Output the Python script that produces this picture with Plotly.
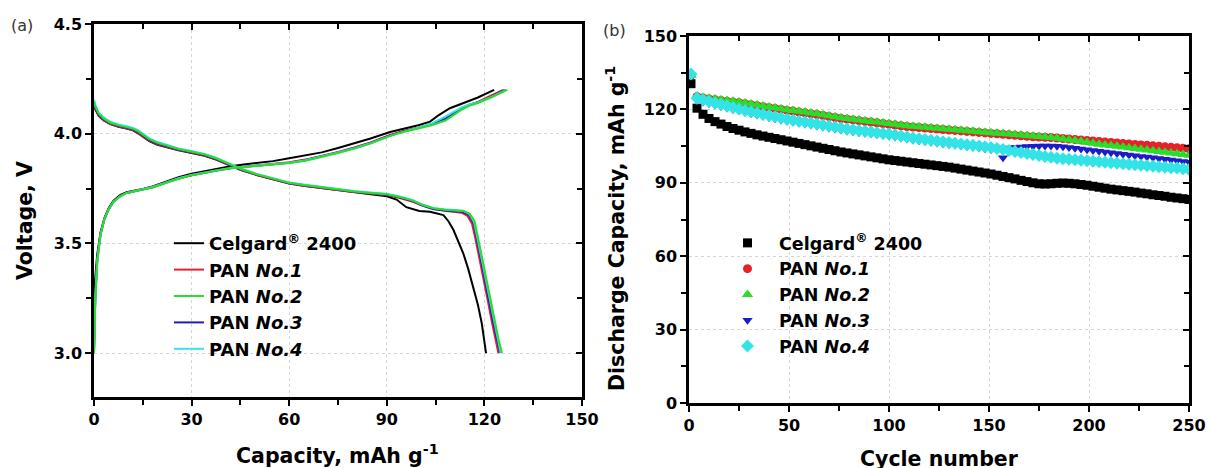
import plotly.graph_objects as go

# ---------------- Panel (a): charge / discharge curves ----------------
# Celgard 2400
k_cc = [0, 0.3, 1.0, 2.0, 3.2, 4.5, 6, 8, 10, 12.5, 15, 18, 22, 26, 30, 34, 38, 42, 46, 50,
        55, 60, 65, 70, 75, 80, 85, 91, 95, 100, 103.3, 106, 109.4, 113.5, 118, 123]
k_cv = [3.24, 3.33, 3.45, 3.55, 3.615, 3.66, 3.695, 3.72, 3.733, 3.74, 3.748, 3.76, 3.782, 3.802,
        3.818, 3.83, 3.842, 3.852, 3.86, 3.866, 3.875, 3.888, 3.9, 3.915, 3.935, 3.955, 3.978,
        4.008, 4.022, 4.04, 4.055, 4.085, 4.116, 4.14, 4.165, 4.2]
k_dc = [0, 0.5, 1.5, 3, 5, 7.5, 10, 12, 13.5, 15, 17, 19.5, 22.5, 26, 30, 34, 37.5, 41, 45, 50,
        55, 60, 65, 70, 75, 80, 85, 90, 93, 96, 100, 103.3, 107.4, 109, 110.5, 112, 113.5, 115,
        116.6, 118, 119.2, 120, 120.5]
k_dv = [4.135, 4.108, 4.08, 4.06, 4.044, 4.032, 4.024, 4.015, 4.002, 3.985, 3.966, 3.95, 3.938,
        3.924, 3.912, 3.899, 3.882, 3.86, 3.836, 3.812, 3.792, 3.773, 3.762, 3.752, 3.742, 3.734,
        3.725, 3.715, 3.7, 3.665, 3.648, 3.644, 3.629, 3.6, 3.561, 3.51, 3.455, 3.385, 3.302,
        3.22, 3.135, 3.06, 3.0]

# PAN No.1
r_cc = [0, 0.4, 1.0, 2.0, 3.2, 4.5, 6, 8, 10, 12.5, 15, 18, 22, 26, 30, 34, 38, 42, 46, 50,
        55, 60, 65, 70, 75, 80, 85, 91, 95, 100, 104, 108, 110.5, 113, 115.5, 118, 121.5, 125.8]
r_cv = [3.0, 3.26, 3.43, 3.545, 3.612, 3.656, 3.69, 3.716, 3.73, 3.738, 3.746, 3.757, 3.777,
        3.797, 3.812, 3.824, 3.834, 3.844, 3.85, 3.856, 3.863, 3.87, 3.882, 3.898, 3.917, 3.937,
        3.96, 3.994, 4.012, 4.03, 4.045, 4.068, 4.092, 4.115, 4.132, 4.145, 4.17, 4.2]
r_dc = [0, 0.5, 1.5, 3, 5, 7.5, 10, 12, 13.5, 15, 17, 19.5, 22.5, 26, 30, 34, 37.5, 41, 45, 50,
        55, 60, 65, 70, 75, 80, 85, 90, 94, 98, 101, 104.3, 108.4, 110.8, 113, 114.8, 116.2,
        117.4, 118.6, 119.8, 121.1, 122.4, 123.4, 124.3]
r_dv = [4.135, 4.11, 4.082, 4.062, 4.045, 4.033, 4.025, 4.016, 4.004, 3.987, 3.968, 3.952, 3.94,
        3.926, 3.914, 3.9, 3.883, 3.86, 3.836, 3.812, 3.792, 3.773, 3.762, 3.752, 3.742, 3.734,
        3.727, 3.72, 3.707, 3.69, 3.672, 3.657, 3.648, 3.645, 3.64, 3.625, 3.59, 3.51, 3.415,
        3.33, 3.235, 3.135, 3.06, 3.0]

# PAN No.2
g_cc = [0, 0.4, 1.0, 2.0, 3.2, 4.5, 6, 8, 10, 12.5, 15, 18, 22, 26, 30, 34, 38, 42, 46, 50,
        55, 60, 65, 70, 75, 80, 85, 91, 95, 100, 104, 108, 110.5, 113, 115.5, 118, 122, 127]
g_cv = [3.0, 3.25, 3.42, 3.54, 3.61, 3.655, 3.69, 3.715, 3.73, 3.738, 3.745, 3.755, 3.775, 3.795,
        3.81, 3.822, 3.832, 3.842, 3.848, 3.853, 3.86, 3.866, 3.877, 3.893, 3.912, 3.932, 3.955,
        3.99, 4.008, 4.025, 4.04, 4.06, 4.085, 4.11, 4.128, 4.14, 4.165, 4.2]
g_dc = [0, 0.5, 1.5, 3, 5, 7.5, 10, 12, 13.5, 15, 17, 19.5, 22.5, 26, 30, 34, 37.5, 41, 45, 50,
        55, 60, 65, 70, 75, 80, 85, 90, 94, 98, 101, 104.3, 108.4, 111, 113.5, 115.5, 117, 118.2,
        119.5, 120.7, 122, 123.3, 124.4, 125.4]
g_dv = [4.145, 4.12, 4.09, 4.068, 4.05, 4.038, 4.03, 4.022, 4.012, 3.995, 3.975, 3.958, 3.945,
        3.93, 3.918, 3.905, 3.888, 3.865, 3.84, 3.815, 3.795, 3.776, 3.765, 3.755, 3.745, 3.737,
        3.73, 3.724, 3.712, 3.695, 3.675, 3.66, 3.652, 3.65, 3.648, 3.635, 3.6, 3.515, 3.42,
        3.333, 3.235, 3.135, 3.06, 3.0]

# PAN No.3
b_cc = [0, 0.4, 1.0, 2.0, 3.2, 4.5, 6, 8, 10, 12.5, 15, 18, 22, 26, 30, 34, 38, 42, 46, 50,
        55, 60, 65, 70, 75, 80, 85, 91, 95, 100, 104, 108, 110.5, 113, 115.5, 118, 122, 126.3]
b_cv = [3.0, 3.25, 3.42, 3.54, 3.61, 3.655, 3.69, 3.715, 3.73, 3.738, 3.745, 3.756, 3.776, 3.796,
        3.811, 3.823, 3.833, 3.843, 3.849, 3.855, 3.862, 3.868, 3.88, 3.896, 3.915, 3.935, 3.958,
        3.992, 4.01, 4.028, 4.044, 4.068, 4.095, 4.118, 4.132, 4.143, 4.168, 4.2]
b_dc = [0, 0.5, 1.5, 3, 5, 7.5, 10, 12, 13.5, 15, 17, 19.5, 22.5, 26, 30, 34, 37.5, 41, 45, 50,
        55, 60, 65, 70, 75, 80, 85, 90, 94, 98, 101, 104.3, 108.4, 111, 113.3, 115.2, 116.6,
        117.8, 119.0, 120.2, 121.5, 122.8, 123.9, 124.8]
b_dv = [4.14, 4.115, 4.086, 4.065, 4.048, 4.036, 4.028, 4.019, 4.008, 3.991, 3.972, 3.955, 3.943,
        3.928, 3.916, 3.903, 3.886, 3.863, 3.838, 3.814, 3.794, 3.775, 3.764, 3.754, 3.744, 3.736,
        3.729, 3.722, 3.71, 3.693, 3.673, 3.657, 3.649, 3.647, 3.644, 3.63, 3.595, 3.512, 3.418,
        3.332, 3.235, 3.135, 3.06, 3.0]

# PAN No.4
c_cc = [0, 0.4, 1.0, 2.0, 3.2, 4.5, 6, 8, 10, 12.5, 15, 18, 22, 26, 30, 34, 38, 42, 46, 50,
        55, 60, 65, 70, 75, 80, 85, 91, 95, 100, 104, 108, 110.5, 113, 115.5, 118, 122, 126.8]
c_cv = [3.0, 3.25, 3.42, 3.54, 3.61, 3.655, 3.69, 3.715, 3.73, 3.738, 3.746, 3.757, 3.777, 3.797,
        3.812, 3.824, 3.834, 3.844, 3.85, 3.855, 3.862, 3.868, 3.879, 3.895, 3.914, 3.934, 3.957,
        3.99, 4.008, 4.027, 4.048, 4.078, 4.1, 4.12, 4.133, 4.143, 4.167, 4.2]
c_dc = [0, 0.5, 1.5, 3, 5, 7.5, 10, 12, 13.5, 15, 17, 19.5, 22.5, 26, 30, 34, 37.5, 41, 45, 50,
        55, 60, 65, 70, 75, 80, 85, 90, 94, 98, 101, 104.3, 108.4, 111, 113.5, 115.4, 116.8,
        118.0, 119.3, 120.5, 121.8, 123.1, 124.1, 125.0]
c_dv = [4.155, 4.128, 4.096, 4.073, 4.055, 4.042, 4.034, 4.026, 4.016, 3.999, 3.979, 3.962, 3.948,
        3.933, 3.921, 3.908, 3.891, 3.868, 3.842, 3.817, 3.797, 3.778, 3.767, 3.757, 3.747, 3.739,
        3.732, 3.726, 3.714, 3.697, 3.677, 3.662, 3.654, 3.652, 3.649, 3.634, 3.598, 3.514, 3.42,
        3.333, 3.235, 3.135, 3.06, 3.0]

# ---------------- Panel (b): cycling performance ----------------
cycles = list(range(1, 251, 3))

cap_celgard = [130.5, 120.5, 118.0, 116.3, 115.0, 114.0, 113.0, 112.2, 111.5, 110.8,
               110.2, 109.6, 109.1, 108.6, 108.1, 107.6, 107.1, 106.6, 106.1, 105.6,
               105.1, 104.6, 104.1, 103.6, 103.1, 102.6, 102.2, 101.8, 101.4, 101.0,
               100.6, 100.2, 99.8, 99.4, 99.1, 98.8, 98.5, 98.2, 97.9, 97.6,
               97.3, 97.0, 96.7, 96.4, 96.0, 95.6, 95.2, 94.8, 94.4, 94.0,
               93.6, 93.1, 92.6, 92.1, 91.6, 91.0, 90.5, 90.0, 89.6, 89.5,
               89.6, 89.8, 89.9, 89.8, 89.6, 89.3, 89.0, 88.6, 88.2, 87.8,
               87.4, 87.1, 86.8, 86.5, 86.2, 85.8, 85.5, 85.1, 84.8, 84.5,
               84.1, 83.8, 83.5, 83.2]
cap_pan1 = [134.0, 125.2, 124.7, 124.3, 123.9, 123.6, 123.3, 123.0, 122.7, 122.3,
            121.9, 121.5, 121.1, 120.7, 120.4, 120.0, 119.6, 119.3, 118.9, 118.6,
            118.2, 117.9, 117.5, 117.1, 116.7, 116.3, 116.0, 115.7, 115.4, 115.1,
            114.8, 114.5, 114.2, 113.9, 113.6, 113.3, 113.0, 112.8, 112.6, 112.4,
            112.2, 112.0, 111.8, 111.6, 111.4, 111.2, 111.0, 110.8, 110.6, 110.4,
            110.2, 110.0, 109.8, 109.6, 109.4, 109.2, 109.0, 108.8, 108.7, 108.6,
            108.5, 108.3, 108.1, 107.9, 107.7, 107.5, 107.3, 107.1, 106.9, 106.7,
            106.5, 106.3, 106.1, 105.9, 105.7, 105.5, 105.3, 105.1, 104.9, 104.7,
            104.5, 104.3, 104.1, 103.9]
cap_pan2 = [134.0, 125.5, 125.0, 124.6, 124.2, 123.9, 123.6, 123.3, 123.0, 122.6,
            122.2, 121.8, 121.4, 121.0, 120.7, 120.3, 119.9, 119.6, 119.2, 118.9,
            118.5, 118.2, 117.8, 117.4, 117.0, 116.6, 116.3, 116.0, 115.7, 115.4,
            115.1, 114.8, 114.5, 114.2, 113.9, 113.6, 113.3, 113.1, 112.9, 112.7,
            112.5, 112.3, 112.1, 111.9, 111.7, 111.5, 111.3, 111.1, 110.9, 110.7,
            110.5, 110.3, 110.1, 109.9, 109.7, 109.5, 109.3, 109.1, 108.9, 108.7,
            108.5, 108.2, 107.9, 107.6, 107.3, 107.0, 106.6, 106.2, 105.8, 105.5,
            105.2, 104.9, 104.6, 104.3, 104.0, 103.7, 103.4, 103.1, 102.8, 102.5,
            102.2, 101.9, 101.6, 101.3]
cap_pan3 = [134.0, 123.6, 123.0, 122.4, 121.8, 121.2, 120.6, 120.0, 119.4, 118.8,
            118.2, 117.7, 117.2, 116.7, 116.2, 115.7, 115.2, 114.8, 114.4, 114.0,
            113.6, 113.2, 112.8, 112.4, 112.0, 111.6, 111.2, 110.9, 110.6, 110.3,
            110.0, 109.7, 109.4, 109.1, 108.7, 108.3, 107.9, 107.5, 107.2, 106.9,
            106.6, 106.3, 106.0, 105.7, 105.4, 105.1, 104.8, 104.5, 104.2, 103.9,
            103.6, 103.4, 100.2, 104.2, 104.4, 104.6, 104.8, 104.9, 105.0, 105.0,
            105.0, 104.9, 104.7, 104.4, 104.1, 103.8, 103.5, 103.2, 102.9, 102.6,
            102.3, 102.0, 101.7, 101.4, 101.1, 100.8, 100.5, 100.2, 99.9, 99.6,
            99.3, 99.0, 98.7, 98.4]
cap_pan4 = [134.5, 124.6, 123.9, 123.2, 122.6, 122.0, 121.4, 120.8, 120.2, 119.6,
            119.0, 118.5, 118.0, 117.5, 117.0, 116.5, 116.0, 115.6, 115.2, 114.8,
            114.4, 114.0, 113.6, 113.2, 112.8, 112.4, 112.0, 111.7, 111.4, 111.1,
            110.8, 110.5, 110.2, 109.9, 109.5, 109.1, 108.7, 108.3, 108.0, 107.7,
            107.4, 107.1, 106.8, 106.5, 106.2, 105.9, 105.6, 105.3, 105.0, 104.7,
            104.4, 104.0, 103.6, 103.2, 102.8, 102.4, 102.0, 101.6, 101.2, 100.8,
            100.4, 100.0, 99.8, 99.6, 99.4, 99.2, 99.0, 98.8, 98.6, 98.4,
            98.2, 98.0, 97.8, 97.6, 97.4, 97.2, 97.0, 96.8, 96.6, 96.4,
            96.2, 96.0, 95.7, 95.4]

names = ["Celgard<sup>®</sup> 2400", "PAN <i>No.1</i>", "PAN <i>No.2</i>",
         "PAN <i>No.3</i>", "PAN <i>No.4</i>"]
colors = ["#000000", "#e8202a", "#2add2a", "#1c1cc8", "#33e3e6"]
symbols = ["square", "circle", "triangle-up", "triangle-down", "diamond"]

W, H = 1207, 468
FONT = "DejaVu Sans"

fig = go.Figure()

curves = [(0, k_cc, k_cv, k_dc, k_dv), (1, r_cc, r_cv, r_dc, r_dv),
          (3, b_cc, b_cv, b_dc, b_dv), (4, c_cc, c_cv, c_dc, c_dv),
          (2, g_cc, g_cv, g_dc, g_dv)]
for i, cc, cv, dc, dv in curves:
    fig.add_trace(go.Scatter(
        x=cc + [None] + dc, y=cv + [None] + dv, mode="lines",
        line=dict(color=colors[i], width=2), name=names[i],
        legend="legend", legendrank=i + 1, xaxis="x", yaxis="y",
        connectgaps=False))

caps = [cap_celgard, cap_pan1, cap_pan2, cap_pan3, cap_pan4]
msizes = [9, 9, 10, 9, 10]
for i in range(5):
    fig.add_trace(go.Scatter(
        x=cycles, y=caps[i], mode="markers",
        marker=dict(symbol=symbols[i], size=msizes[i], color=colors[i], line=dict(width=0)),
        name=names[i], legend="legend2", legendrank=i + 1,
        xaxis="x2", yaxis="y2"))

# invisible traces to activate mirrored (inward-tick) axes
fig.add_trace(go.Scatter(x=[None], y=[None], xaxis="x3", yaxis="y3",
                         showlegend=False, hoverinfo="skip"))
fig.add_trace(go.Scatter(x=[None], y=[None], xaxis="x4", yaxis="y4",
                         showlegend=False, hoverinfo="skip"))

tickfont = dict(family=FONT, size=16, color="black", weight="bold")
grid = dict(showgrid=True, gridcolor="#d6d6d6", griddash="dot", gridwidth=1)


def main_axis(rng, dtick, mdtick, domain, anchor, fmt=None):
    d = dict(domain=domain, range=rng, anchor=anchor, tickmode="linear", tick0=0,
             dtick=dtick, ticks="outside", ticklen=6, tickwidth=2, tickcolor="black",
             showline=True, linewidth=2.5, linecolor="black", mirror=True,
             zeroline=False, tickfont=tickfont, automargin=False,
             minor=dict(dtick=mdtick, ticks="outside", ticklen=5, tickwidth=2,
                        tickcolor="black", showgrid=False), **grid)
    if fmt:
        d["tickformat"] = fmt
    return d


def mirror_axis(rng, dtick, mdtick, over, side, anchor):
    return dict(range=rng, overlaying=over, side=side, anchor=anchor,
                tickmode="linear", tick0=0, dtick=dtick, ticks="inside",
                ticklen=6, tickwidth=2, tickcolor="black", showticklabels=False,
                showline=False, showgrid=False, zeroline=False,
                minor=dict(dtick=mdtick, ticks="inside", ticklen=5, tickwidth=2,
                           tickcolor="black", showgrid=False))


xa_dom = [94 / W, 582 / W]
ya_dom = [1 - 397 / H, 1 - 24 / H]
xb_dom = [689 / W, 1189 / W]
yb_dom = [1 - 403 / H, 1 - 36 / H]

fig.update_layout(
    width=W, height=H, margin=dict(l=0, r=0, t=0, b=0),
    paper_bgcolor="white", plot_bgcolor="white",
    font=dict(family=FONT, color="black"),
    xaxis=main_axis([0, 150], 30, 15, xa_dom, "y"),
    yaxis=main_axis([2.8, 4.5], 0.5, 0.25, ya_dom, "x", ".1f"),
    xaxis2=main_axis([0, 250], 50, 25, xb_dom, "y2"),
    yaxis2=main_axis([0, 150], 30, 15, yb_dom, "x2"),
    xaxis3=mirror_axis([0, 150], 30, 15, "x", "top", "y"),
    yaxis3=mirror_axis([2.8, 4.5], 0.5, 0.25, "y", "right", "x"),
    xaxis4=mirror_axis([0, 250], 50, 25, "x2", "top", "y2"),
    yaxis4=mirror_axis([0, 150], 30, 15, "y2", "right", "x2"),
    legend=dict(x=169 / W, y=1 - 225 / H, xanchor="left", yanchor="top",
                bgcolor="rgba(0,0,0,0)", borderwidth=0,
                font=dict(family=FONT, size=18, color="black", weight="bold")),
    legend2=dict(x=716 / W, y=1 - 225 / H, xanchor="left", yanchor="top",
                 bgcolor="rgba(0,0,0,0)", borderwidth=0, itemwidth=53,
                 font=dict(family=FONT, size=17.5, color="black", weight="bold")),
    showlegend=True,
)

title_font = dict(family=FONT, size=20.5, color="black", weight="bold")
ann = [
    dict(text="(a)", x=22 / W, y=1 - 25 / H, font=dict(family=FONT, size=16, color="#333")),
    dict(text="(b)", x=614 / W, y=1 - 31 / H, font=dict(family=FONT, size=16, color="#333")),
    dict(text="Capacity, mAh g<sup>-1</sup>", x=338 / W, y=1 - 454 / H, font=title_font),
    dict(text="Cycle number", x=939 / W, y=1 - 459 / H, font=title_font),
    dict(text="Voltage, V", x=25 / W, y=1 - 221 / H, textangle=-90, font=title_font),
    dict(text="Discharge Capacity, mAh g<sup>-1</sup>", x=615 / W, y=1 - 229 / H,
         textangle=-90, font=title_font),
]
for a in ann:
    fig.add_annotation(xref="paper", yref="paper", showarrow=False,
                       xanchor="center", yanchor="middle", **a)

fig.write_html("out.html", config={"displayModeBar": False},
               post_script="document.body.style.margin='0px';"
                           "document.body.style.overflow='hidden';")
